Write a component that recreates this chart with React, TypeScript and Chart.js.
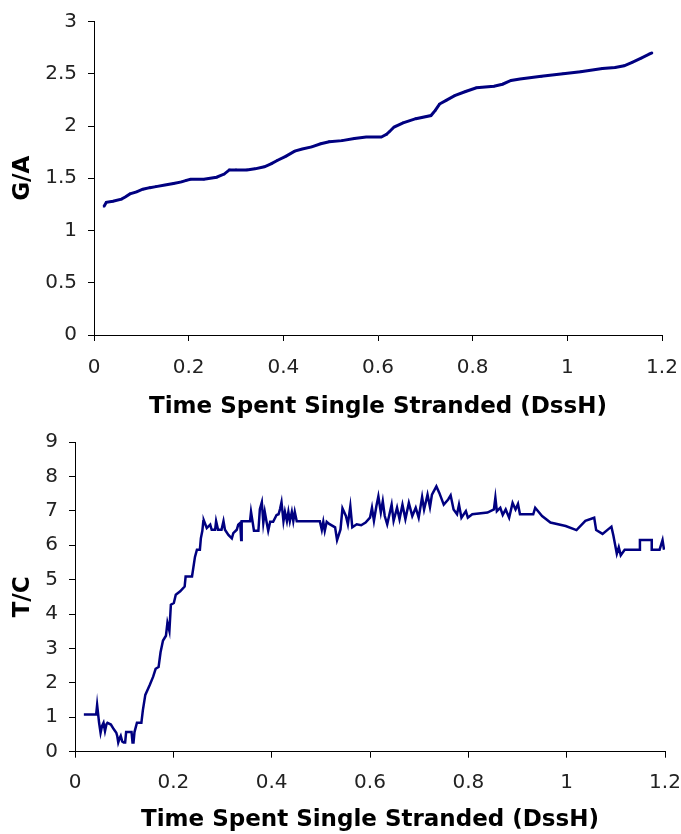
import React, { useEffect, useRef } from "react";
import { Chart, registerables } from "chart.js";

Chart.register(...registerables);

// ---------- tick values / labels ----------
const xTickValues = [0, 0.2, 0.4, 0.6, 0.8, 1, 1.2];
const xTickLabels = ["0", "0.2", "0.4", "0.6", "0.8", "1", "1.2"];
const gaTickValues = [0, 0.5, 1, 1.5, 2, 2.5, 3];
const gaTickLabels = ["0", "0.5", "1", "1.5", "2", "2.5", "3"];
const tcTickValues = [0, 1, 2, 3, 4, 5, 6, 7, 8, 9];
const tcTickLabels = ["0", "1", "2", "3", "4", "5", "6", "7", "8", "9"];

const xTitle = "Time Spent Single Stranded (DssH)";
const gaTitle = "G/A";
const tcTitle = "T/C";

// ---------- G/A series ----------
const gaX = [
  0.021, 0.026, 0.04, 0.058, 0.066, 0.076, 0.09, 0.103, 0.118, 0.131, 0.15, 0.168, 0.185, 0.195, 0.204,
  0.232, 0.259, 0.275, 0.286, 0.3, 0.323, 0.34, 0.36, 0.375, 0.387, 0.405, 0.424, 0.44, 0.46, 0.479,
  0.497, 0.524, 0.55, 0.575, 0.607, 0.618, 0.625, 0.634, 0.653, 0.68, 0.712, 0.721, 0.73, 0.744,
  0.762, 0.785, 0.808, 0.845, 0.863, 0.881, 0.9, 0.945, 0.991, 1.028, 1.074, 1.101, 1.12, 1.137,
  1.156, 1.174, 1.179,
];
const gaY = [
  1.23, 1.27, 1.28, 1.3, 1.32, 1.35, 1.37, 1.395, 1.41, 1.42, 1.435, 1.45, 1.465, 1.48, 1.49,
  1.49, 1.51, 1.54, 1.58, 1.58, 1.58, 1.59, 1.61, 1.64, 1.67, 1.71, 1.76, 1.78, 1.8, 1.83,
  1.85, 1.86, 1.88, 1.895, 1.895, 1.92, 1.95, 1.99, 2.03, 2.07, 2.1, 2.15, 2.21, 2.245,
  2.29, 2.33, 2.366, 2.38, 2.4, 2.436, 2.45, 2.475, 2.5, 2.52, 2.55, 2.56, 2.576, 2.61,
  2.65, 2.69, 2.7,
];

// ---------- T/C series ----------
const tcX = [
  0.018, 0.043, 0.045, 0.049, 0.052, 0.055, 0.058, 0.061, 0.064, 0.066, 0.073, 0.079, 0.084, 0.086,
  0.088, 0.091, 0.093, 0.096, 0.099, 0.102, 0.104, 0.112, 0.115, 0.117, 0.119, 0.121, 0.126, 0.135,
  0.138, 0.143, 0.152, 0.159, 0.164, 0.17, 0.174, 0.179, 0.185, 0.188, 0.192, 0.195, 0.201, 0.205,
  0.214, 0.223, 0.225, 0.236, 0.238, 0.244, 0.248, 0.254, 0.256, 0.259, 0.261,
  0.262, 0.268, 0.275, 0.278, 0.285, 0.287, 0.291, 0.298, 0.302, 0.305, 0.312, 0.319, 0.322, 0.329,
  0.332, 0.336, 0.338, 0.339, 0.356, 0.358, 0.361, 0.364, 0.373, 0.376, 0.38, 0.383, 0.386, 0.39,
  0.393, 0.397, 0.403, 0.41, 0.414, 0.417, 0.42, 0.424, 0.427, 0.431, 0.434, 0.437, 0.441, 0.444,
  0.447, 0.451, 0.498, 0.502, 0.505, 0.508, 0.512, 0.517,
  0.529, 0.533, 0.54, 0.544, 0.551, 0.555, 0.56, 0.564, 0.573, 0.582, 0.591, 0.6, 0.604, 0.608,
  0.613, 0.617, 0.622, 0.626, 0.63, 0.635, 0.644, 0.648, 0.655, 0.66, 0.666, 0.672, 0.679, 0.686,
  0.693, 0.699, 0.706, 0.71, 0.717, 0.722, 0.726, 0.735, 0.741, 0.75, 0.759, 0.764, 0.77, 0.777,
  0.781, 0.786, 0.795, 0.799, 0.808, 0.839, 0.852, 0.855, 0.858, 0.865, 0.87, 0.876, 0.883, 0.89,
  0.896, 0.901, 0.905, 0.932, 0.936, 0.95, 0.967, 0.998, 1.02, 1.038, 1.056, 1.06, 1.073, 1.091,
  1.095, 1.102, 1.106, 1.11, 1.118, 1.149, 1.149, 1.173, 1.173, 1.189, 1.195, 1.198,
];
const tcY = [
  1.08, 1.08, 1.36, 0.84, 0.55, 0.75, 0.84, 0.6, 0.8, 0.84, 0.79, 0.65, 0.55, 0.45,
  0.27, 0.4, 0.46, 0.3, 0.27, 0.27, 0.57, 0.57, 0.57, 0.27, 0.27, 0.57, 0.84, 0.84,
  1.2, 1.65, 1.94, 2.18, 2.41, 2.46, 2.89, 3.23, 3.37, 3.75, 3.51, 4.27, 4.32, 4.56,
  4.66, 4.8, 5.09, 5.09, 5.09, 5.66, 5.87, 5.87, 6.2, 6.42, 6.7,
  6.72, 6.5, 6.6, 6.45, 6.45, 6.7, 6.45, 6.45, 6.7, 6.45, 6.3, 6.2, 6.35, 6.45,
  6.6, 6.65, 6.15, 6.7, 6.7, 6.97, 6.7, 6.42, 6.42, 7.05, 7.25, 6.65, 6.97, 6.65,
  6.42, 6.68, 6.68, 6.88, 6.9, 7.05, 7.25, 6.7, 6.97, 6.7, 6.97, 6.7, 6.97, 6.7,
  6.97, 6.7, 6.7, 6.45, 6.68, 6.42, 6.68, 6.62,
  6.52, 6.15, 6.46, 7.07, 6.85, 6.61, 7.13, 6.52, 6.61, 6.58, 6.66, 6.8, 7.09, 6.71,
  7.14, 7.42, 6.95, 7.28, 6.85, 6.61, 7.18, 6.71, 7.09, 6.76, 7.18, 6.76, 7.23, 6.85,
  7.09, 6.8, 7.4, 7.04, 7.47, 7.11, 7.47, 7.71, 7.52, 7.18, 7.33, 7.45, 7.04, 6.9,
  7.18, 6.8, 6.99, 6.8, 6.9, 6.95, 7.04, 7.38, 6.99, 7.09, 6.88, 7.04, 6.8, 7.23,
  7.04, 7.2, 6.9, 6.9, 7.09, 6.85, 6.66, 6.56, 6.44, 6.71, 6.8, 6.44, 6.33, 6.54,
  6.28, 5.75, 5.94, 5.71, 5.87, 5.87, 6.15, 6.15, 5.87, 5.87, 6.15, 5.87,
];

const LINE_COLOR = "#000080";
const TICK_FONT = { family: "'DejaVu Sans', Verdana, sans-serif", size: 20 };
const TITLE_FONT = { family: "'DejaVu Sans', Verdana, sans-serif", size: 23, weight: "bold" as const };

type Spec = {
  xs: number[];
  ys: number[];
  yTitle: string;
  yMax: number;
  yTickValues: number[];
  yTickLabels: string[];
  yWidth: number;
  xHeight: number;
  padTop: number;
  padRight: number;
  xTickPad: number;
  xTitlePadBottom: number;
  lineWidth: number;
  pointRadius: number;
};

function buildConfig(s: Spec): any {
  const data = s.xs.map((x, i) => ({ x, y: s.ys[i] }));
  return {
    type: "line",
    data: {
      datasets: [
        {
          data,
          borderColor: LINE_COLOR,
          backgroundColor: LINE_COLOR,
          borderWidth: s.lineWidth,
          pointRadius: s.pointRadius,
          pointStyle: "rect",
          pointBorderWidth: 0,
          tension: 0,
          fill: false,
        },
      ],
    },
    options: {
      animation: false,
      responsive: false,
      devicePixelRatio: 1,
      layout: { padding: { top: s.padTop, right: s.padRight, left: 0, bottom: 0 } },
      plugins: { legend: { display: false }, tooltip: { enabled: false }, title: { display: false } },
      scales: {
        x: {
          type: "linear",
          min: 0,
          max: 1.2,
          afterBuildTicks: (scale: any) => {
            scale.ticks = xTickValues.map((v) => ({ value: v }));
          },
          afterFit: (scale: any) => {
            scale.height = s.xHeight;
            scale.paddingLeft = 0;
            scale.paddingRight = 0;
          },
          ticks: {
            callback: (_v: any, i: number) => xTickLabels[i],
            font: TICK_FONT,
            color: "#222",
            padding: s.xTickPad,
            maxRotation: 0,
            autoSkip: false,
          },
          grid: { drawOnChartArea: false, drawTicks: true, tickLength: 6, color: "#000" },
          border: { display: true, color: "#000", width: 1 },
          title: {
            display: true,
            text: xTitle,
            font: TITLE_FONT,
            color: "#000",
            padding: { top: 0, bottom: s.xTitlePadBottom },
          },
        },
        y: {
          type: "linear",
          min: 0,
          max: s.yMax,
          afterBuildTicks: (scale: any) => {
            scale.ticks = s.yTickValues.map((v) => ({ value: v }));
          },
          afterFit: (scale: any) => {
            scale.width = s.yWidth;
            scale.paddingTop = 0;
            scale.paddingBottom = 0;
          },
          ticks: {
            callback: (_v: any, i: number) => s.yTickLabels[i],
            font: TICK_FONT,
            color: "#222",
            padding: 11,
            autoSkip: false,
          },
          grid: { drawOnChartArea: false, drawTicks: true, tickLength: 6, color: "#000" },
          border: { display: true, color: "#000", width: 1 },
          title: {
            display: true,
            text: s.yTitle,
            font: TITLE_FONT,
            color: "#000",
            padding: { top: 9, bottom: 0 },
          },
        },
      },
    },
  };
}

function ChartCanvas({ spec, width, height }: { spec: Spec; width: number; height: number }) {
  const ref = useRef<HTMLCanvasElement | null>(null);
  useEffect(() => {
    if (!ref.current) return;
    const chart = new Chart(ref.current, buildConfig(spec));
    return () => chart.destroy();
  }, [spec]);
  return <canvas ref={ref} width={width} height={height} style={{ display: "block", width, height }} />;
}

const topSpec: Spec = {
  xs: gaX,
  ys: gaY,
  yTitle: gaTitle,
  yMax: 3,
  yTickValues: gaTickValues,
  yTickLabels: gaTickLabels,
  yWidth: 94,
  xHeight: 95,
  padTop: 21.5,
  padRight: 19,
  xTickPad: 15,
  xTitlePadBottom: 9,
  lineWidth: 3,
  pointRadius: 1.5,
};

const bottomSpec: Spec = {
  xs: tcX,
  ys: tcY,
  yTitle: tcTitle,
  yMax: 9,
  yTickValues: tcTickValues,
  yTickLabels: tcTickLabels,
  yWidth: 75,
  xHeight: 82.3,
  padTop: 12,
  padRight: 16,
  xTickPad: 13,
  xTitlePadBottom: 0,
  lineWidth: 2.5,
  pointRadius: 0,
};

export default function App() {
  return (
    <div style={{ position: "absolute", left: 0, top: 0, width: 681, height: 834, background: "#fff" }}>
      <ChartCanvas spec={topSpec} width={681} height={430} />
      <ChartCanvas spec={bottomSpec} width={681} height={404} />
    </div>
  );
}
